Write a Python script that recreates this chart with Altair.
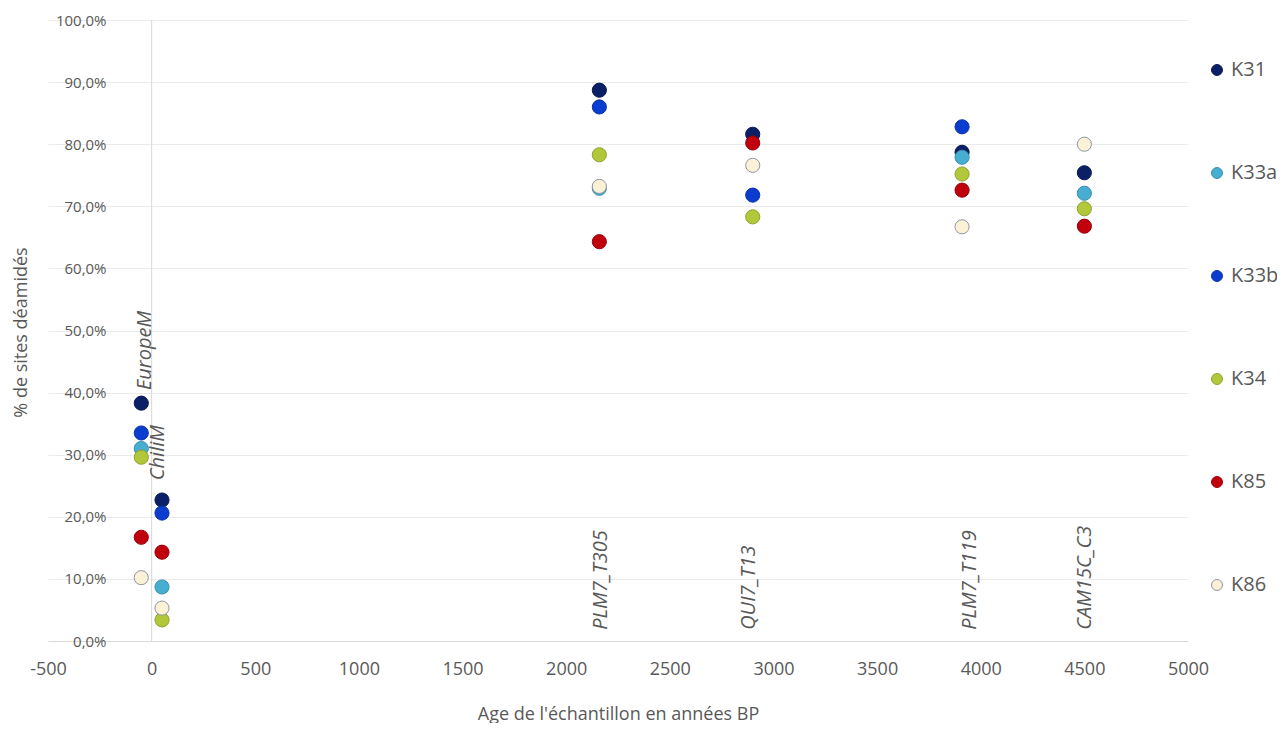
import altair as alt
import pandas as pd

series = ["K31", "K33a", "K33b", "K34", "K85", "K86"]
fills = ["#0b1f66", "#46aed0", "#0a3ccf", "#b2c83a", "#c0000c", "#fbf1d6"]
strokes = ["#09184f", "#3a8fae", "#0830a8", "#8fa22c", "#9a000a", "#8f96a3"]

samples = ["EuropeM", "ChiliM", "PLM7_T305", "QUI7_T13", "PLM7_T119", "CAM15C_C3"]
ages = [-50, 50, 2160, 2900, 3910, 4500]

K31 = [38.3, 22.7, 88.7, 81.6, 78.7, 75.4]
K33a = [31.0, 8.7, 72.9, None, 77.9, 72.1]
K33b = [33.5, 20.6, 86.0, 71.8, 82.8, None]
K34 = [29.6, 3.4, 78.3, 68.3, 75.2, 69.6]
K85 = [16.7, 14.3, 64.3, 80.2, 72.6, 66.8]
K86 = [10.2, 5.3, 73.2, 76.6, 66.7, 80.0]

label_x = [-30, 30, 2168, 2880, 3950, 4504]
label_y = [40.4, 25.9, 1.8, 1.8, 1.8, 1.8]

x_ticks = [-500, 0, 500, 1000, 1500, 2000, 2500, 3000, 3500, 4000, 4500, 5000]
y_ticks = [0, 0.1, 0.2, 0.3, 0.4, 0.5, 0.6, 0.7, 0.8, 0.9, 1.0]

values = {"K31": K31, "K33a": K33a, "K33b": K33b, "K34": K34, "K85": K85, "K86": K86}
rows = []
for i, s in enumerate(series):
    for smp, a, v in zip(samples, ages, values[s]):
        if v is not None:
            rows.append({"serie": s, "sample": smp, "age": a, "pct": v / 100.0, "order": i})
df = pd.DataFrame(rows)

lab = pd.DataFrame({"sample": samples, "lx": label_x, "ly": [v / 100.0 for v in label_y]})

FONT = "Open Sans"
GREY = "#595959"

xscale = alt.Scale(domain=[-500, 5000], nice=False, zero=False)
yscale = alt.Scale(domain=[0, 1], nice=False)

axis_line = alt.Chart(pd.DataFrame({"v": [0]})).mark_rule(
    color="#d9d9d9", strokeWidth=1
).encode(
    x=alt.X("v:Q", scale=xscale),
    y=alt.datum(0, scale=yscale),
    y2=alt.datum(1),
)

legend_cfg = dict(
    title=None,
    orient="none",
    legendX=1159,
    legendY=40,
    rowPadding=83,
    symbolType="circle",
    symbolSize=120,
    labelFontSize=20,
    labelColor=GREY,
    labelFont=FONT,
    symbolStrokeWidth=1,
)

points = alt.Chart(df).mark_point(filled=True, size=200, strokeWidth=1, opacity=1).encode(
    x=alt.X(
        "age:Q",
        scale=xscale,
        title="Age de l'échantillon en années BP",
        axis=alt.Axis(
            values=x_ticks,
            labelExpr="'' + datum.value",
            labelFlush=False,
            labelFontSize=18,
            grid=False,
            ticks=False,
            domain=True,
            domainColor="#d9d9d9",
            labelPadding=19,
            titlePadding=27,
        ),
    ),
    y=alt.Y(
        "pct:Q",
        scale=yscale,
        title="% de sites déamidés",
        axis=alt.Axis(
            values=y_ticks,
            labelExpr="replace(format(datum.value, '.1%'), '.', ',')",
            labelFontSize=15,
            grid=True,
            gridColor="#ebebeb",
            ticks=False,
            domain=False,
            offset=-60,
            labelPadding=2,
            titleX=-78,
            titleY=312,
        ),
    ),
    fill=alt.Fill(
        "serie:N",
        scale=alt.Scale(domain=series, range=fills),
        legend=alt.Legend(**legend_cfg),
    ),
    stroke=alt.Stroke(
        "serie:N",
        scale=alt.Scale(domain=series, range=strokes),
        legend=alt.Legend(**legend_cfg),
    ),
    order=alt.Order("order:Q"),
)

labels = alt.Chart(lab).mark_text(
    angle=270, align="left", baseline="middle", fontStyle="italic",
    font=FONT, fontSize=20, color=GREY,
).encode(
    x=alt.X("lx:Q", scale=xscale),
    y=alt.Y("ly:Q", scale=yscale),
    text="sample:N",
)

chart = alt.layer(axis_line, points, labels).properties(
    width=1140,
    height=621,
    padding={"left": 40, "top": 12, "right": 89, "bottom": 82},
    autosize=alt.AutoSizeParams(type="none"),
).configure_view(stroke=None).configure_axis(
    labelFont=FONT,
    labelColor=GREY,
    titleFont=FONT,
    titleFontSize=18,
    titleColor=GREY,
    titleFontWeight="normal",
)

chart.save("out.html", embed_options={"renderer": "svg", "actions": False})
